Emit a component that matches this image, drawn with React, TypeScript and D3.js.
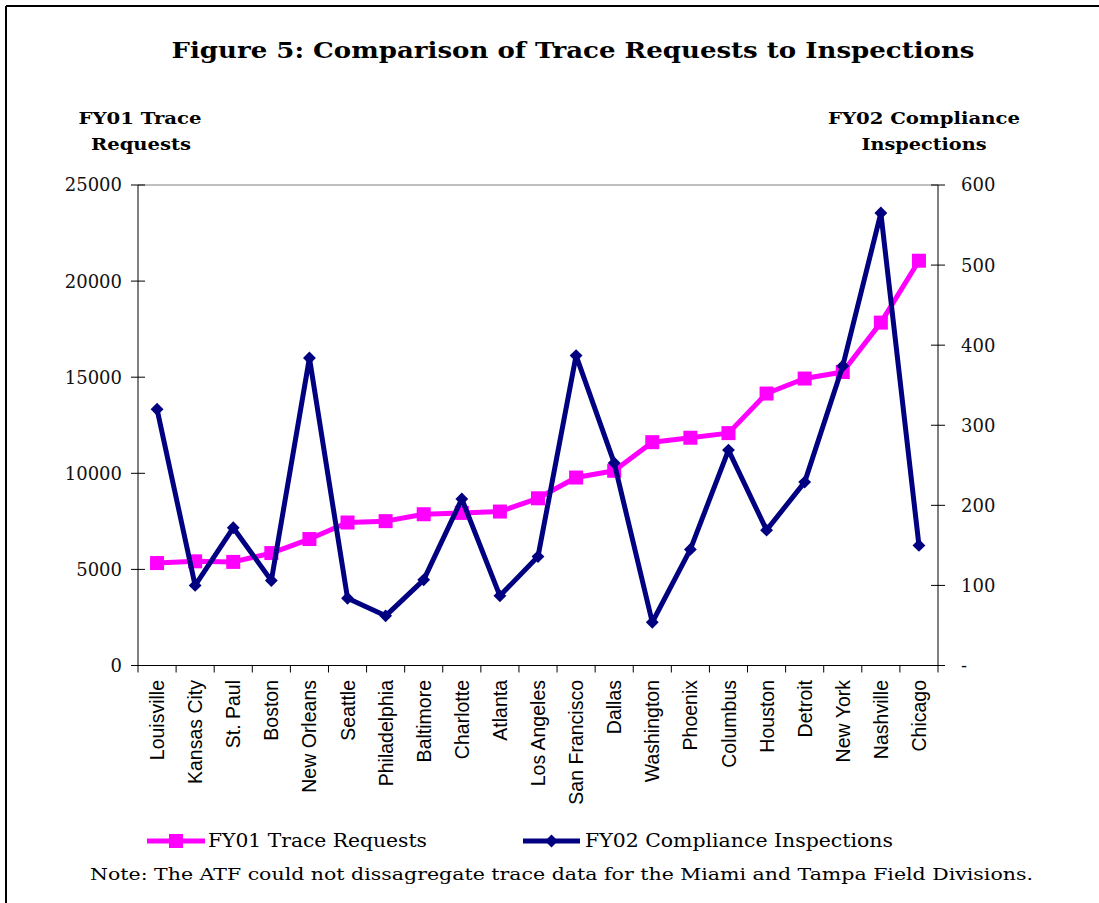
import React from "react";
import * as d3 from "d3";

const categories = ["Louisville","Kansas City","St. Paul","Boston","New Orleans","Seattle","Philadelphia","Baltimore","Charlotte","Atlanta","Los Angeles","San Francisco","Dallas","Washington","Phoenix","Columbus","Houston","Detroit","New York","Nashville","Chicago"];
const traceRequests = [5330, 5420, 5390, 5850, 6580, 7440, 7510, 7870, 7940, 8010, 8700, 9780, 10130, 11620, 11850, 12090, 14150, 14930, 15270, 17840, 21060];
const inspections = [320, 100, 172, 106, 384, 84, 62, 107, 208, 87, 136, 387, 253, 54, 145, 269, 169, 229, 374, 565, 150];
const leftTicks = [0, 5000, 10000, 15000, 20000, 25000];
const rightTicks = [0, 100, 200, 300, 400, 500, 600];

const W = 1099, H = 903;
const M = { left: 138, right: 938, top: 185, bottom: 665.5 };
const PINK = "#FF00FF", NAVY = "#000080";
const SERIF = "'DejaVu Serif', serif";
const SANS = "'Liberation Sans', Arial, sans-serif";

export default function App() {
  const x = d3.scaleBand<string>().domain(categories).range([M.left, M.right]);
  const band = x.bandwidth();
  const xc = (i: number) => (x(categories[i]) as number) + band / 2;
  const yL = d3.scaleLinear().domain([0, 25000]).range([M.bottom, M.top]);
  const yR = d3.scaleLinear().domain([0, 600]).range([M.bottom, M.top]);
  const linePink = d3.line<number>().x((_, i) => xc(i)).y(d => yL(d));
  const lineNavy = d3.line<number>().x((_, i) => xc(i)).y(d => yR(d));
  const diamond = d3.symbol(d3.symbolDiamond2, 105)() || "";

  return (
    <svg width={W} height={H} style={{ position: "absolute", left: 0, top: 0, background: "#fff" }}>
      <rect x={0} y={0} width={W} height={H} fill="#fff" />
      <line x1={6} y1={6} x2={W} y2={6} stroke="#000" strokeWidth={2} />
      <line x1={6} y1={6} x2={6} y2={H} stroke="#000" strokeWidth={2} />

      <text x={573} y={58} textAnchor="middle" fontFamily={SERIF} fontWeight="bold" fontSize={23} textLength={803} lengthAdjust="spacingAndGlyphs">
        Figure 5: Comparison of Trace Requests to Inspections
      </text>
      <text x={140} y={124} textAnchor="middle" fontFamily={SERIF} fontWeight="bold" fontSize={17} textLength={123} lengthAdjust="spacingAndGlyphs">FY01 Trace</text>
      <text x={141} y={150} textAnchor="middle" fontFamily={SERIF} fontWeight="bold" fontSize={17} textLength={100} lengthAdjust="spacingAndGlyphs">Requests</text>
      <text x={924} y={124} textAnchor="middle" fontFamily={SERIF} fontWeight="bold" fontSize={17} textLength={192} lengthAdjust="spacingAndGlyphs">FY02 Compliance</text>
      <text x={924} y={150} textAnchor="middle" fontFamily={SERIF} fontWeight="bold" fontSize={17} textLength={125} lengthAdjust="spacingAndGlyphs">Inspections</text>

      <line x1={M.left} y1={M.top} x2={M.right} y2={M.top} stroke="#808080" strokeWidth={1} />
      <line x1={M.left} y1={M.top} x2={M.left} y2={M.bottom} stroke="#000" strokeWidth={1} />
      <line x1={M.right} y1={M.top} x2={M.right} y2={M.bottom} stroke="#000" strokeWidth={1} />
      <line x1={M.left - 7} y1={M.bottom} x2={M.right + 7} y2={M.bottom} stroke="#000" strokeWidth={1} />

      {leftTicks.map(t => (
        <g key={"l" + t}>
          <line x1={M.left - 7} x2={M.left + 7} y1={yL(t)} y2={yL(t)} stroke="#000" />
          <text x={122} y={yL(t)} dy="0.36em" textAnchor="end" fontFamily={SERIF} fontSize={18} fill="#111">{t}</text>
        </g>
      ))}
      {rightTicks.map(t => (
        <g key={"r" + t}>
          <line x1={M.right - 7} x2={M.right + 7} y1={yR(t)} y2={yR(t)} stroke="#000" />
          <text x={961} y={yR(t)} dy="0.36em" textAnchor="start" fontFamily={SERIF} fontSize={18} fill="#111">{t === 0 ? "-" : t}</text>
        </g>
      ))}
      {d3.range(categories.length + 1).map(i => (
        <line key={"x" + i} x1={M.left + band * i} x2={M.left + band * i} y1={M.bottom} y2={M.bottom + 7} stroke="#000" />
      ))}
      {categories.map((c, i) => (
        <text key={c} transform={`translate(${xc(i)},${680}) rotate(-90)`} dy="0.36em" textAnchor="end" fontFamily={SANS} fontSize={19.5} fill="#000">{c}</text>
      ))}

      <path d={linePink(traceRequests) || ""} fill="none" stroke={PINK} strokeWidth={5} strokeLinejoin="round" />
      {traceRequests.map((v, i) => (
        <rect key={"p" + i} x={xc(i) - 7} y={yL(v) - 7} width={14} height={14} fill={PINK} />
      ))}
      <path d={lineNavy(inspections) || ""} fill="none" stroke={NAVY} strokeWidth={5} strokeLinejoin="round" />
      {inspections.map((v, i) => (
        <path key={"n" + i} d={diamond} transform={`translate(${xc(i)},${yR(v)})`} fill={NAVY} />
      ))}

      <line x1={147} x2={205} y1={841} y2={841} stroke={PINK} strokeWidth={5} />
      <rect x={169} y={834} width={14} height={14} fill={PINK} />
      <text x={208} y={847} fontFamily={SERIF} fontSize={18} textLength={219} lengthAdjust="spacingAndGlyphs">FY01 Trace Requests</text>
      <line x1={523} x2={580} y1={841} y2={841} stroke={NAVY} strokeWidth={5} />
      <path d={diamond} transform={`translate(551.5,841)`} fill={NAVY} />
      <text x={585} y={847} fontFamily={SERIF} fontSize={18} textLength={308} lengthAdjust="spacingAndGlyphs">FY02 Compliance Inspections</text>

      <text x={90} y={880} fontFamily={SERIF} fontSize={17} textLength={943} lengthAdjust="spacingAndGlyphs">Note: The ATF could not dissagregate trace data for the Miami and Tampa Field Divisions.</text>
    </svg>
  );
}
